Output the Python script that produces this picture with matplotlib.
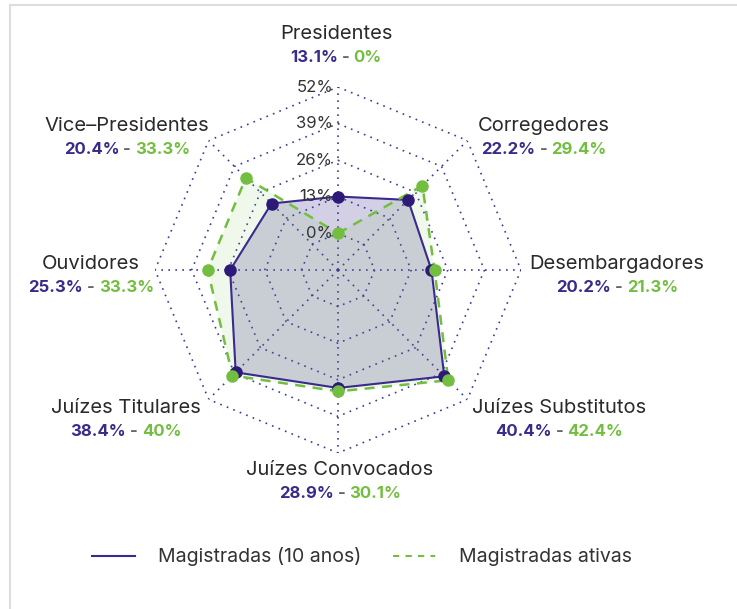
import numpy as np
import matplotlib.pyplot as plt
from matplotlib.lines import Line2D
from matplotlib.patches import Rectangle
from matplotlib.offsetbox import TextArea, HPacker, AnnotationBbox

plt.rcParams['font.family'] = ['Inter', 'DejaVu Sans']

# dados
cargos = ['Presidentes', 'Corregedores', 'Desembargadores', 'Juízes Substitutos',
          'Juízes Convocados', 'Juízes Titulares', 'Ouvidores', 'Vice–Presidentes']
mag_10anos = [13.1, 22.2, 20.2, 40.4, 28.9, 38.4, 25.3, 20.4]
mag_ativas = [0, 29.4, 21.3, 42.4, 30.1, 40, 33.3, 33.3]
ticks = [0, 13, 26, 39, 52]
r_min, r_max = -13, 52

roxo = '#3a2a8c'
verde = '#72bf3f'
grade = '#3b3b9e'

W, H = 737, 609
fig = plt.figure(figsize=(W / 100, H / 100), dpi=100)

# centro do radar (px) e raio
cx, cy, R = 338, 270, 183
ax = fig.add_axes([(cx - R) / W, (H - cy - R) / H, 2 * R / W, 2 * R / H], projection='polar')
ax.set_theta_offset(np.pi / 2)
ax.set_theta_direction(-1)
ax.set_ylim(r_min, r_max)
ax.grid(False)
ax.set_xticks([])
ax.set_yticks([])
ax.spines['polar'].set_visible(False)
ax.patch.set_alpha(0)

n = len(cargos)
ang = np.arange(n) * 2 * np.pi / n
ang_c = np.append(ang, ang[0])

# grade octogonal
for t in ticks:
    ax.plot(ang_c, [t] * (n + 1), color=grade, lw=1.2, ls=(0, (1, 3.2)), zorder=1)
for a in ang:
    ax.plot([a, a], [r_min, r_max], color=grade, lw=1.2, ls=(0, (1, 3.2)), zorder=1)

v1 = np.append(mag_10anos, mag_10anos[0])
v2 = np.append(mag_ativas, mag_ativas[0])
ax.fill(ang_c, v1, color=roxo, alpha=0.22, lw=0, zorder=2)
ax.fill(ang_c, v2, color=verde, alpha=0.1, lw=0, zorder=2)
ax.plot(ang_c, v1, color=roxo, lw=1.5, zorder=3)
ax.plot(ang_c, v2, color=verde, lw=1.8, ls=(0, (4, 3)), zorder=3)
ax.plot(ang, mag_10anos, 'o', color='#2d1a78', ms=8, zorder=4)
ax.plot(ang, mag_ativas, 'o', color=verde, ms=8, zorder=5)

for t in ticks:
    ax.annotate(f'{t}%', xy=(0, t), xytext=(-3.5, 0), textcoords='offset points',
                ha='right', va='center', fontsize=12, color='#333333', zorder=6)

# rótulos (posição em px: nome, valores)
pos = [(336, 34), (544, 126), (617, 264), (559, 408),
       (340, 470), (126, 408), (91, 264), (127, 126)]


def fmt(v):
    return f'{v:g}%'


for nome, a, b, (px, py) in zip(cargos, mag_10anos, mag_ativas, pos):
    fig.text(px / W, 1 - py / H, nome, ha='center', va='center', fontsize=14.5, color='#2a2a2a')
    box = HPacker(children=[
        TextArea(fmt(a), textprops=dict(color=roxo, fontsize=12, fontweight='bold')),
        TextArea(' - ', textprops=dict(color='#666666', fontsize=12, fontweight='bold')),
        TextArea(fmt(b), textprops=dict(color=verde, fontsize=12, fontweight='bold')),
    ], pad=0, sep=0, align='baseline')
    ab = AnnotationBbox(box, (px / W, 1 - (py + 23.5) / H), xycoords='figure fraction',
                        frameon=False, box_alignment=(0.5, 0.5), pad=0)
    fig.add_artist(ab)

handles = [Line2D([], [], color=roxo, lw=1.5),
           Line2D([], [], color=verde, lw=1.5, ls=(0, (3, 3)))]
fig.legend(handles, ['Magistradas (10 anos)', 'Magistradas ativas'], ncol=2,
           loc='center', bbox_to_anchor=(362 / W, 1 - 557 / H), frameon=False,
           fontsize=14, handlelength=2.2, columnspacing=1.6, handletextpad=1.2,
           labelcolor='#333333')

fig.add_artist(Rectangle((10 / W, -0.1), 1.2, 1 - 5 / H + 0.1, transform=fig.transFigure,
                         fill=False, ec='#dddddd', lw=1.5))

fig.savefig('out.png', dpi=100)
